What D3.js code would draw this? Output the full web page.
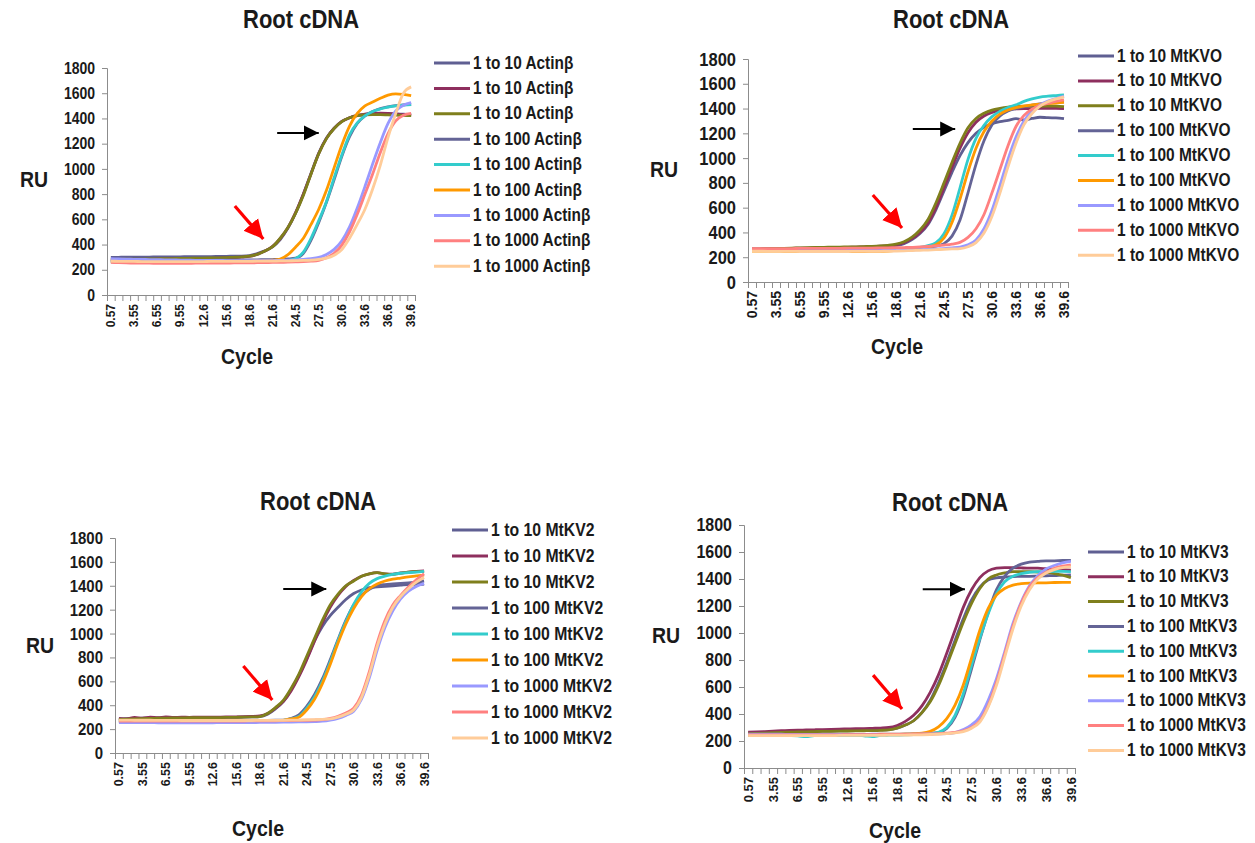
<!DOCTYPE html>
<html>
<head>
<meta charset="utf-8">
<script src="https://cdn.jsdelivr.net/npm/d3@7"></script>
<style>
  body { margin: 0; background: #fff; }
  svg { font-family: "Liberation Sans", Arial, sans-serif; }
</style>
</head>
<body>
<div id="chart"></div>
<script>
// category labels on the x axis (cycle number)
var cycleLabels = ["0.57","1.56","2.56","3.55","4.55","5.55","6.55","7.55","8.55","9.55",
    "10.6","11.6","12.6","13.6","14.6","15.6","16.6","17.6","18.6","19.6",
    "20.6","21.6","22.5","23.5","24.5","25.5","26.5","27.5","28.6","29.6",
    "30.6","31.6","32.6","33.6","34.6","35.6","36.6","37.6","38.6","39.6"];
var yTicks = [0, 200, 400, 600, 800, 1000, 1200, 1400, 1600, 1800];
var dilutions = ["1 to 10", "1 to 10", "1 to 10", "1 to 100", "1 to 100", "1 to 100", "1 to 1000", "1 to 1000", "1 to 1000"];
var genes = ["Actinβ", "MtKVO", "MtKV2", "MtKV3"];
var seriesColors = ["#5f5f92", "#8e2f5e", "#7f7f1c", "#646496", "#33cccc", "#ff9900", "#9999ff", "#ff8080", "#ffcc99"];

// RU values, one row per series
var actinValues = [
    [298,299,300,300,301,301,302,302,303,303,304,304,305,305,306,307,308,309,313,328, 350,382,440,530,650,800,965,1125,1245,1322,1376,1406,1422,1432,1438,1440,1438,1436,1434,1432],
    [276,277,278,280,281,282,284,285,286,287,288,289,290,291,293,295,297,300,306,322, 348,385,448,535,655,800,962,1122,1242,1322,1376,1406,1424,1434,1440,1442,1440,1436,1430,1425],
    [282,283,284,285,285,286,287,288,289,290,291,292,293,294,295,297,299,302,308,322, 348,383,450,535,650,790,960,1120,1240,1320,1375,1405,1422,1428,1430,1430,1428,1426,1424,1422],
    [270,270,271,271,272,272,273,273,273,274,274,275,275,275,276,276,277,277,278,279, 280,281,283,286,292,330,435,575,735,915,1100,1255,1360,1420,1455,1478,1492,1502,1508,1512],
    [262,261,260,259,258,258,257,257,257,257,257,258,258,258,259,259,260,260,261,262, 263,265,268,275,290,340,450,590,740,930,1110,1270,1365,1420,1455,1475,1490,1500,1505,1510],
    [265,265,265,265,265,265,265,265,265,265,266,266,266,266,267,267,268,268,269,270, 272,276,285,320,380,450,560,680,830,1010,1190,1340,1440,1500,1530,1560,1585,1595,1590,1580],
    [288,286,284,283,282,281,280,279,278,277,276,275,275,274,274,273,273,272,272,272, 272,273,274,276,278,282,288,298,322,362,430,540,690,860,1040,1210,1360,1460,1505,1525],
    [258,256,254,253,252,252,251,251,251,251,251,252,252,252,253,253,254,254,255,256, 257,258,259,260,262,264,268,275,295,330,395,500,640,800,960,1130,1280,1380,1425,1440],
    [268,267,266,266,265,265,265,265,265,265,265,265,265,266,266,266,267,267,267,268, 268,269,270,271,272,274,277,283,292,315,360,450,560,680,840,1030,1250,1440,1600,1650]
];
var mtkvoValues = [
    [262,263,264,265,266,267,268,269,270,271,272,273,274,276,278,280,283,287,295,310, 343,392,465,585,735,885,1020,1125,1200,1248,1278,1295,1305,1318,1308,1320,1330,1326,1325,1318],
    [268,268,269,270,271,272,273,274,275,276,277,278,280,282,284,286,289,293,300,318, 350,400,475,600,760,925,1080,1205,1290,1340,1368,1385,1395,1398,1400,1400,1402,1402,1402,1400],
    [265,266,268,270,272,274,275,277,279,280,281,282,283,284,286,288,291,296,305,325, 362,420,505,640,800,965,1120,1245,1320,1362,1388,1402,1412,1418,1420,1420,1418,1420,1420,1415],
    [258,258,258,259,259,259,260,260,260,261,261,262,262,263,263,264,265,266,268,270, 273,276,281,290,310,370,500,720,950,1140,1270,1340,1380,1400,1415,1428,1438,1445,1450,1455],
    [255,255,256,256,257,257,258,258,259,259,260,260,261,261,262,263,264,265,267,270, 274,280,294,318,390,540,760,990,1160,1265,1335,1378,1408,1430,1458,1478,1493,1500,1505,1510],
    [250,250,249,249,248,248,248,247,247,247,247,246,246,246,246,247,248,250,255,262, 268,275,282,300,355,480,670,890,1080,1215,1300,1355,1388,1408,1420,1430,1435,1440,1445,1450],
    [255,255,255,255,254,254,254,254,254,254,254,254,255,255,255,256,256,257,258,259, 260,262,264,267,270,275,282,300,340,430,580,780,990,1170,1300,1380,1430,1460,1480,1500],
    [270,270,270,270,270,270,271,271,271,272,272,272,273,273,274,274,275,276,277,278, 280,283,287,292,298,306,320,360,430,545,720,910,1100,1255,1345,1395,1425,1442,1458,1470],
    [250,249,248,248,247,247,246,246,246,246,246,246,246,247,247,247,248,249,250,252, 254,256,258,261,264,267,270,285,318,395,530,720,930,1120,1270,1360,1420,1455,1478,1495]
];
var mtkv2Values = [
    [285,288,290,291,292,293,294,294,295,295,296,296,297,297,298,299,300,302,305,325, 370,430,530,650,790,940,1060,1150,1220,1285,1335,1365,1385,1390,1395,1400,1405,1410,1410,1415],
    [290,285,298,292,300,296,302,298,300,299,300,300,301,301,302,303,304,306,310,330, 375,430,520,640,780,935,1090,1220,1320,1395,1445,1480,1500,1510,1500,1498,1508,1515,1520,1525],
    [282,284,286,288,290,291,292,293,294,295,295,296,297,297,298,299,300,302,305,330, 380,440,540,660,810,960,1110,1240,1330,1400,1440,1480,1500,1510,1500,1495,1505,1515,1518,1520],
    [268,268,268,268,268,268,269,269,269,269,269,270,270,270,270,270,271,271,272,273, 274,275,290,320,390,490,620,780,950,1110,1240,1320,1370,1400,1410,1415,1420,1425,1430,1440],
    [262,262,262,262,263,263,263,263,263,264,264,264,264,265,265,265,266,266,267,268, 270,274,285,305,375,470,600,760,940,1100,1245,1350,1420,1460,1480,1495,1505,1510,1515,1520],
    [270,270,270,269,269,269,268,268,268,267,267,266,266,265,264,263,263,264,266,268, 270,274,285,300,360,450,580,740,920,1080,1210,1310,1375,1415,1440,1455,1465,1475,1482,1490],
    [255,255,254,254,254,253,253,253,253,253,253,253,253,254,254,254,255,255,256,256, 257,258,259,260,261,263,266,275,290,315,350,450,630,860,1050,1190,1290,1355,1395,1420],
    [268,268,268,267,267,267,267,267,267,267,267,267,267,268,268,268,268,269,269,270, 270,271,272,273,274,276,280,290,308,335,375,485,680,920,1110,1240,1320,1390,1450,1500],
    [275,275,274,274,274,273,273,273,272,272,272,272,272,272,272,272,272,272,273,273, 273,274,275,276,277,279,282,285,300,325,360,465,655,890,1080,1220,1310,1375,1430,1470]
];
var mtkv3Values = [
    [258,260,262,264,266,268,270,271,272,273,274,275,276,277,278,280,282,285,295,318, 350,410,500,630,780,945,1105,1245,1340,1392,1408,1414,1418,1420,1420,1422,1424,1425,1428,1430],
    [265,267,270,273,276,278,280,282,283,284,286,288,290,291,292,294,296,300,315,345, 390,460,560,690,850,1020,1190,1320,1410,1460,1480,1485,1485,1482,1480,1480,1476,1472,1470,1465],
    [255,257,259,261,263,265,267,268,270,271,272,273,274,275,276,277,279,283,295,318, 350,410,490,610,760,920,1080,1220,1330,1400,1430,1445,1455,1455,1455,1452,1450,1440,1428,1410],
    [245,245,245,245,245,245,245,245,245,245,246,246,246,246,247,247,248,248,249,250, 252,254,257,262,292,375,525,735,950,1150,1320,1420,1480,1510,1525,1530,1535,1535,1537,1537],
    [242,242,242,241,241,240,238,232,240,241,241,242,242,242,238,232,241,243,244,245, 247,250,255,265,300,390,550,760,960,1140,1290,1380,1420,1440,1450,1455,1455,1456,1456,1455],
    [248,248,248,248,248,248,248,248,248,248,248,248,248,248,249,249,250,250,251,252, 254,258,272,305,365,465,615,815,1020,1180,1280,1330,1355,1365,1370,1372,1372,1374,1375,1375],
    [250,250,250,250,250,249,249,249,249,249,249,249,249,249,249,250,250,250,250,251, 251,252,252,253,254,262,285,320,380,500,660,860,1070,1230,1350,1425,1475,1500,1520,1530],
    [246,246,246,246,246,246,246,246,246,246,246,246,247,247,247,247,248,248,248,249, 250,251,252,254,258,264,275,300,350,460,630,840,1050,1220,1340,1410,1450,1480,1495,1505],
    [240,240,240,240,240,240,240,240,240,240,240,241,241,241,241,242,242,243,243,244, 245,246,248,250,254,260,270,295,340,450,610,820,1030,1200,1320,1400,1445,1470,1485,1490]
];

// arrows: [x1, y1, x2, y2] in (category index, RU)
var blackArrows = [[21.6, 1285, 27.0, 1285], [20.1, 1235, 25.4, 1235], [21.0, 1373, 26.5, 1373], [21.1, 1325, 26.2, 1325]];
var redArrows = [[16.1, 706, 19.8, 444], [15.1, 702, 18.75, 436], [15.9, 728, 19.6, 444], [15.1, 688, 18.6, 437]];

var panels = [
    { values: actinValues, gene: genes[0], left: 107, top: 68, width: 308, height: 227,
      title: [301, 28], cycle: [247, 364], ru: [34, 187], yFont: 14, xFont: 12, legend: [434, 63, 25.4], legFont: 15.4 },
    { values: mtkvoValues, gene: genes[1], left: 748, top: 59, width: 320, height: 223,
      title: [951, 28], cycle: [897, 354], ru: [664, 177], yFont: 16.5, xFont: 14, legend: [1078, 56, 24.9], legFont: 15.5 },
    { values: mtkv2Values, gene: genes[2], left: 115, top: 538, width: 313, height: 215,
      title: [318, 510], cycle: [258, 836], ru: [40, 653], yFont: 15, xFont: 12.5, legend: [452, 530, 26], legFont: 15.8 },
    { values: mtkv3Values, gene: genes[3], left: 744, top: 525, width: 331, height: 243,
      title: [950, 511], cycle: [895, 838], ru: [666, 643], yFont: 16, xFont: 13, legend: [1088, 552, 24.8], legFont: 15.5 }
];

var svg = d3.select("#chart").append("svg")
    .attr("width", 1255)
    .attr("height", 843);

// arrow heads
var defs = svg.append("defs");
[["headBlack", "#000", 15, 8], ["headRed", "#ff0000", 6, 3.2]].forEach(function (m) {
    defs.append("marker")
        .attr("id", m[0])
        .attr("markerUnits", m[0] == "headBlack" ? "userSpaceOnUse" : "strokeWidth")
        .attr("viewBox", "0 0 10 10")
        .attr("refX", 10).attr("refY", 5)
        .attr("markerWidth", m[2]).attr("markerHeight", m[3] * 2)
        .attr("orient", "auto")
        .append("path")
            .attr("d", "M0,0 L10,5 L0,10 Z")
            .attr("fill", m[1]);
});

function stretchedText(g, x, y, txt, size, anchor) {
    return g.append("text")
        .attr("transform", "translate(" + x + "," + y + ") scale(1,1.15)")
        .attr("text-anchor", anchor || "middle")
        .attr("font-size", size)
        .attr("font-weight", "bold")
        .attr("fill", "#1a1a1a")
        .text(txt);
}

panels.forEach(function (p, k) {
    var g = svg.append("g").attr("transform", "translate(" + p.left + "," + p.top + ")");

    var x = d3.scaleBand().domain(cycleLabels).range([0, p.width]).padding(0);
    var xIdx = d3.scaleLinear().domain([-0.5, 39.5]).range([0, p.width]);
    var xBound = d3.scaleLinear().domain([0, 40]).range([0, p.width]);
    var y = d3.scaleLinear().domain([0, 1800]).range([p.height, 0]);

    // y axis
    var yAxis = g.append("g")
        .call(d3.axisLeft(y).tickValues(yTicks).tickSize(5).tickPadding(7).tickFormat(d3.format("d")));
    yAxis.selectAll("text")
        .attr("font-size", p.yFont).attr("font-weight", "bold").attr("fill", "#1a1a1a")
        .attr("font-family", "Liberation Sans, Arial, sans-serif")
        .attr("transform", "scale(1,1.15)");

    // x axis: boundary ticks, then labels every third category
    g.append("g")
        .attr("transform", "translate(0," + p.height + ")")
        .call(d3.axisBottom(xBound).tickValues(d3.range(41)).tickSize(6).tickFormat(""));
    var xAxis = g.append("g")
        .attr("transform", "translate(0," + p.height + ")")
        .call(d3.axisBottom(x).tickValues(cycleLabels.filter(function (d, i) { return i % 3 == 0; })).tickSize(0));
    xAxis.select(".domain").remove();
    xAxis.selectAll("text")
        .attr("font-size", p.xFont).attr("font-weight", "bold").attr("fill", "#1a1a1a")
        .attr("font-family", "Liberation Sans, Arial, sans-serif")
        .attr("transform", "rotate(-90)")
        .attr("x", -9).attr("y", 0).attr("dy", "0.36em")
        .style("text-anchor", "end");

    g.selectAll(".domain, .tick line").attr("stroke", "#8c8c8c");

    // curves
    var line = d3.line()
        .x(function (d, i) { return x(cycleLabels[i]) + x.bandwidth() / 2; })
        .y(function (d) { return y(d); })
        .curve(d3.curveMonotoneX);
    p.values.forEach(function (row, s) {
        g.append("path")
            .datum(row)
            .attr("fill", "none")
            .attr("stroke", seriesColors[s])
            .attr("stroke-width", 2.8)
            .attr("stroke-linejoin", "round")
            .attr("d", line);
    });

    // arrows
    var b = blackArrows[k], r = redArrows[k];
    g.append("line")
        .attr("x1", xIdx(b[0])).attr("y1", y(b[1]))
        .attr("x2", xIdx(b[2])).attr("y2", y(b[3]))
        .attr("stroke", "#000").attr("stroke-width", 2)
        .attr("marker-end", "url(#headBlack)");
    g.append("line")
        .attr("x1", xIdx(r[0])).attr("y1", y(r[1]))
        .attr("x2", xIdx(r[2])).attr("y2", y(r[3]))
        .attr("stroke", "#ff0000").attr("stroke-width", 3.2)
        .attr("marker-end", "url(#headRed)");

    // titles
    stretchedText(svg, p.title[0], p.title[1], "Root cDNA", 22);
    stretchedText(svg, p.cycle[0], p.cycle[1], "Cycle", 19.5);
    stretchedText(svg, p.ru[0], p.ru[1], "RU", 19.5);

    // legend
    var lg = svg.append("g").attr("transform", "translate(" + p.legend[0] + "," + p.legend[1] + ")");
    dilutions.forEach(function (d, s) {
        var row = lg.append("g").attr("transform", "translate(0," + (s * p.legend[2]) + ")");
        row.append("line")
            .attr("x1", 0).attr("x2", 36)
            .attr("stroke", seriesColors[s]).attr("stroke-width", 3);
        stretchedText(row, 39, 5.5, d + " " + p.gene, p.legFont, "start");
    });
});
</script>
</body>
</html>
